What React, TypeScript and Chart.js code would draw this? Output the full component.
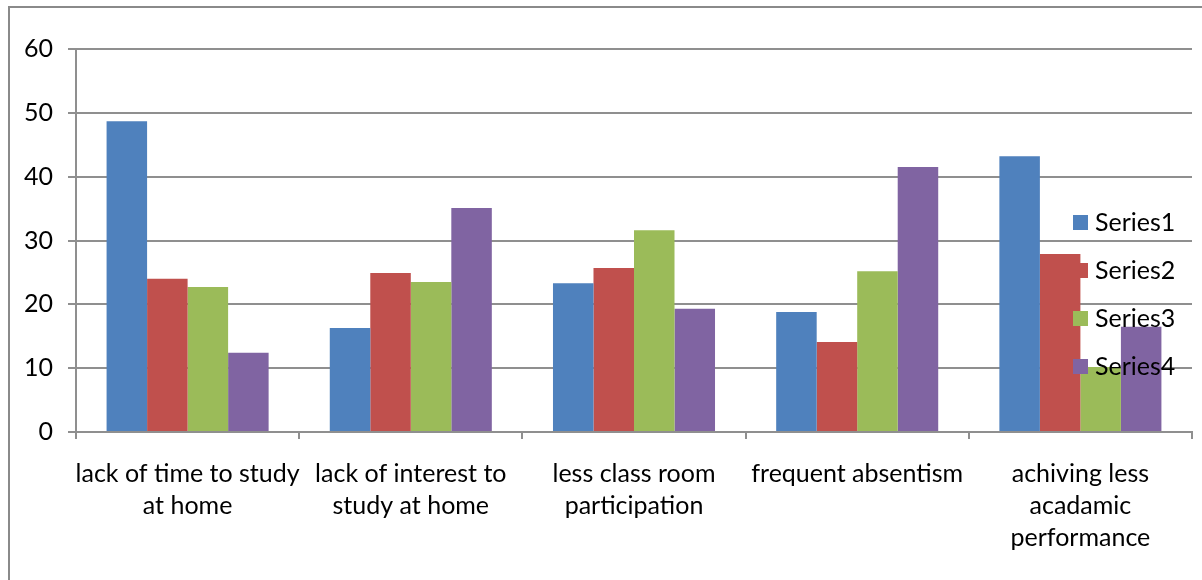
import React, { useEffect, useRef } from "react";
import { Chart, registerables } from "chart.js";

Chart.register(...registerables);

const categories: string[][] = [
  ["lack of time to study", "at home"],
  ["lack of interest to", "study at home"],
  ["less class room", "participation"],
  ["frequent absentism"],
  ["achiving less", "acadamic", "performance"],
];
const seriesNames = ["Series1", "Series2", "Series3", "Series4"];
const series1 = [48.7, 16.3, 23.3, 18.8, 43.2];
const series2 = [24.0, 24.9, 25.7, 14.1, 27.9];
const series3 = [22.7, 23.5, 31.6, 25.2, 10.2];
const series4 = [12.4, 35.1, 19.3, 41.5, 16.5];
const seriesColors = ["#4F81BD", "#C0504D", "#9BBB59", "#8064A2"];
const yMin = 0;
const yMax = 60;
const yStep = 10;

const FONT = "Lato, 'Noto Sans', sans-serif";
const FONT_SIZE = 25;
const GRID = "#8f8f8f";

const legendPlugin = {
  id: "overlayLegend",
  afterDatasetsDraw(chart: any) {
    const ctx = chart.ctx;
    const area = chart.chartArea;
    const x0 = area.right - 119;
    const y0 = 222.5;
    const gap = 48;
    ctx.save();
    ctx.font = `${FONT_SIZE}px ${FONT}`;
    ctx.textBaseline = "middle";
    ctx.textAlign = "left";
    chart.data.datasets.forEach((ds: any, i: number) => {
      const y = y0 + i * gap;
      ctx.fillStyle = ds.backgroundColor;
      ctx.fillRect(x0, y - 7.5, 15, 15);
      ctx.fillStyle = "#000";
      ctx.fillText(ds.label, x0 + 22, y);
    });
    ctx.restore();
  },
};

export default function App() {
  const ref = useRef<HTMLCanvasElement | null>(null);
  useEffect(() => {
    if (!ref.current) return;
    const allSeries = [series1, series2, series3, series4];
    const chart = new Chart(ref.current, {
      type: "bar",
      data: {
        labels: categories,
        datasets: allSeries.map((d, i) => ({
          label: seriesNames[i],
          data: d,
          backgroundColor: seriesColors[i],
          borderWidth: 0,
          categoryPercentage: 0.726,
          barPercentage: 1.0,
        })),
      },
      options: {
        responsive: false,
        animation: false,
        layout: { padding: { left: 0, right: 10, top: 49, bottom: 0 } },
        plugins: {
          legend: { display: false },
          tooltip: { enabled: false },
          title: { display: false },
        },
        scales: {
          x: {
            afterFit: (s: any) => {
              s.height = 148;
            },
            grid: {
              offset: true,
              drawOnChartArea: false,
              drawTicks: true,
              tickLength: 7,
              color: GRID,
              lineWidth: 2,
            },
            border: { color: GRID, width: 2 },
            ticks: {
              color: "#000",
              padding: 19,
              maxRotation: 0,
              autoSkip: false,
              font: { family: FONT, size: FONT_SIZE, lineHeight: 1.28 },
            },
          },
          y: {
            min: yMin,
            max: yMax,
            afterFit: (s: any) => {
              s.width = 76;
            },
            grid: {
              color: GRID,
              lineWidth: 2,
              tickLength: 8,
              drawTicks: true,
            },
            border: { color: GRID, width: 2 },
            ticks: {
              stepSize: yStep,
              color: "#000",
              padding: 15,
              font: { family: FONT, size: FONT_SIZE },
            },
          },
        },
      },
      plugins: [legendPlugin],
    });
    return () => chart.destroy();
  }, []);

  return (
    <>
      <div
        style={{
          position: "fixed",
          left: 8,
          top: 6,
          width: 1400,
          height: 800,
          borderLeft: "2px solid #8a8a8a",
          borderTop: "2px solid #8a8a8a",
          background: "#fff",
        }}
      />
      <canvas
        ref={ref}
        width={1202}
        height={580}
        style={{ position: "fixed", left: 0, top: 0, width: 1202, height: 580 }}
      />
    </>
  );
}
